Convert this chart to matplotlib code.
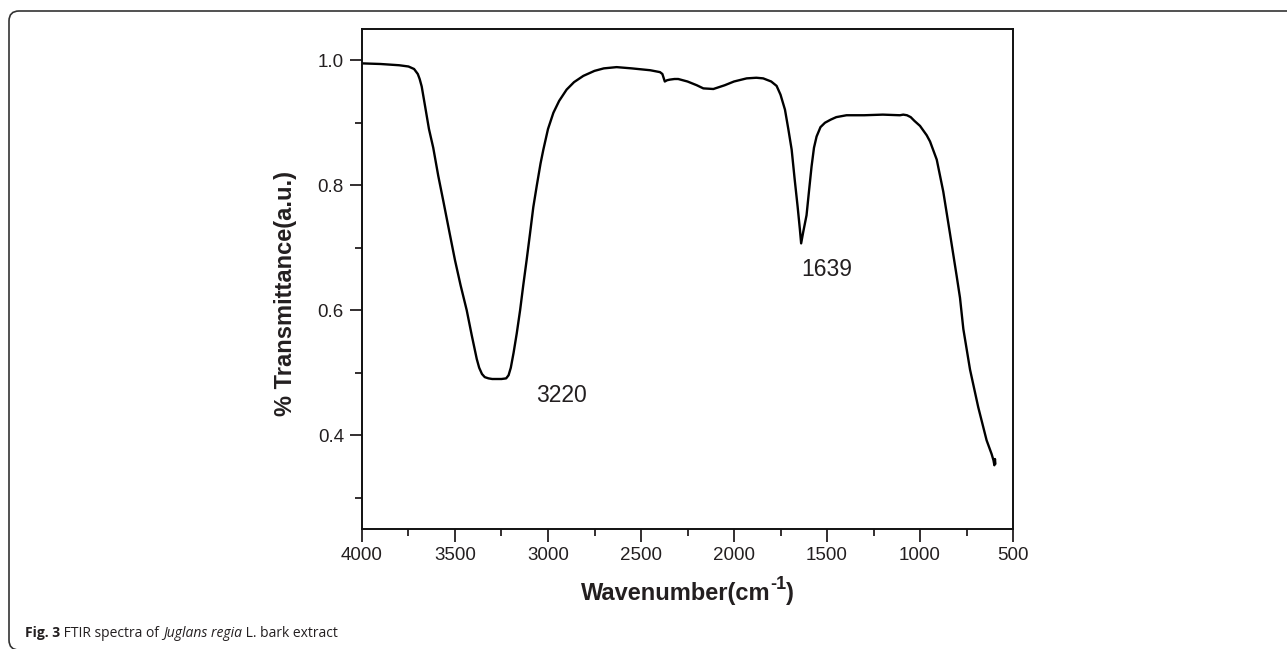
import numpy as np
import matplotlib.pyplot as plt
from matplotlib.patches import FancyBboxPatch
from matplotlib.transforms import IdentityTransform

# FTIR spectrum (wavenumber cm-1, transmittance)
wavenumber = [4000, 3900, 3800, 3750, 3720, 3700, 3690, 3679, 3660, 3640,
              3617, 3590, 3563, 3530, 3500, 3470, 3437, 3410, 3383, 3370,
              3355, 3340, 3320, 3300, 3250, 3225, 3212, 3200, 3185, 3168,
              3150, 3133, 3115, 3097, 3079, 3060, 3040, 3025, 3000, 2971,
              2940, 2900, 2860, 2810, 2750, 2700, 2631, 2550, 2450, 2398,
              2385, 2372, 2360, 2345, 2320, 2300, 2250, 2200, 2165, 2111,
              2050, 2000, 1932, 1880, 1843, 1800, 1771, 1750, 1726, 1708,
              1690, 1674, 1658, 1646, 1639, 1628, 1610, 1597, 1583, 1570,
              1556, 1535, 1511, 1480, 1450, 1395, 1300, 1200, 1108, 1090,
              1070, 1050, 1030, 1000, 964, 946, 910, 875, 839, 803,
              785, 767, 731, 687, 642, 615, 605, 600, 597, 595]
transmittance = [0.995, 0.994, 0.992, 0.990, 0.986, 0.978, 0.970, 0.958, 0.925, 0.890,
                 0.860, 0.815, 0.775, 0.725, 0.680, 0.640, 0.600, 0.560, 0.522, 0.508,
                 0.498, 0.493, 0.491, 0.490, 0.490, 0.491, 0.496, 0.508, 0.532, 0.563,
                 0.600, 0.640, 0.680, 0.722, 0.765, 0.800, 0.835, 0.857, 0.890, 0.916,
                 0.935, 0.953, 0.965, 0.975, 0.983, 0.987, 0.989, 0.987, 0.984, 0.981,
                 0.978, 0.966, 0.968, 0.969, 0.970, 0.970, 0.966, 0.960, 0.955, 0.954,
                 0.960, 0.966, 0.971, 0.972, 0.971, 0.966, 0.959, 0.945, 0.921, 0.890,
                 0.857, 0.810, 0.766, 0.730, 0.707, 0.725, 0.752, 0.790, 0.830, 0.860,
                 0.878, 0.893, 0.900, 0.905, 0.909, 0.912, 0.912, 0.913, 0.912, 0.913,
                 0.912, 0.909, 0.903, 0.895, 0.880, 0.870, 0.841, 0.790, 0.723, 0.655,
                 0.620, 0.570, 0.505, 0.445, 0.392, 0.370, 0.360, 0.352, 0.362, 0.355]

peak_labels = ['3220', '1639']
peak_label_x = [2925, 1500]
peak_label_y = [0.464, 0.665]

xticks = [4000, 3500, 3000, 2500, 2000, 1500, 1000, 500]
yticks = [0.4, 0.6, 0.8, 1.0]

txt = '#231f20'
plt.rcParams['font.family'] = ['Liberation Sans', 'DejaVu Sans']

W, H = 1287, 649
fig = plt.figure(figsize=(W/100, H/100), dpi=100)
ax = fig.add_axes([362/W, 120/H, 651/W, 500/H])

ax.plot(wavenumber, transmittance, color='black', lw=1.7)

ax.set_xlim(4000, 500)
ax.set_ylim(0.25, 1.05)
ax.set_xticks(xticks)
ax.set_xticks(np.arange(3750, 500, -500), minor=True)
ax.set_yticks(yticks)
ax.set_yticks([0.3, 0.5, 0.7, 0.9], minor=True)
ax.set_yticklabels(['%.1f' % v for v in yticks])
ax.tick_params(which='major', direction='out', length=9, width=1.3,
               labelsize=13.5, colors=txt, pad=4)
ax.tick_params(which='minor', direction='out', length=5, width=1.3, colors=txt)
for s in ax.spines.values():
    s.set_linewidth(1.4)
    s.set_color('#111111')

ax.set_ylabel('% Transmittance(a.u.)', fontsize=17, fontweight='bold', color=txt)
ax.yaxis.set_label_coords(-0.1, 0.47)

for lab, lx, ly in zip(peak_labels, peak_label_x, peak_label_y):
    ax.text(lx, ly, lab, fontsize=16.5, color=txt, ha='center', va='center')

# rounded frame round the figure (pixel coords)
frame = FancyBboxPatch((9, -1), W + 20, H - 11 + 1,
                       boxstyle='round,pad=0,rounding_size=10',
                       transform=IdentityTransform(), fill=False,
                       ec='#333333', lw=1.2, clip_on=False)
fig.patches.append(frame)

fig.canvas.draw()
r = fig.canvas.get_renderer()


def run_text(parts, x0, y0, center=False):
    # lay out pieces of text one after the other, in pixels
    objs = []
    x = x0
    for s, kw, dy in parts:
        t = fig.text(x / W, (H - y0 + dy) / H, s, va='baseline', color=txt, **kw)
        bb = t.get_window_extent(renderer=r)
        x += bb.width
        objs.append(t)
    if center:
        shift = (x - x0) / 2
        for t in objs:
            px, py = t.get_position()
            t.set_position((px - shift / W, py))
    return objs


# x axis title with a raised "-1"
bold = dict(fontsize=17, fontweight='bold')
run_text([('Wavenumber(cm', bold, 0),
          ('-1', dict(fontsize=13, fontweight='bold'), 11),
          (')', bold, 0)], 687.5, 600, center=True)

# caption with bold / regular / italic parts
cf = ['Open Sans', 'DejaVu Sans']
run_text([('Fig. 3', dict(fontsize=10, fontweight='bold', family=cf), 0),
          (' FTIR spectra of ', dict(fontsize=10, family=cf), 0),
          ('Juglans regia', dict(fontsize=10, style='italic', family=cf), 0),
          (' L. bark extract', dict(fontsize=10, family=cf), 0)], 25, 637)

fig.savefig('out.png', dpi=100)
